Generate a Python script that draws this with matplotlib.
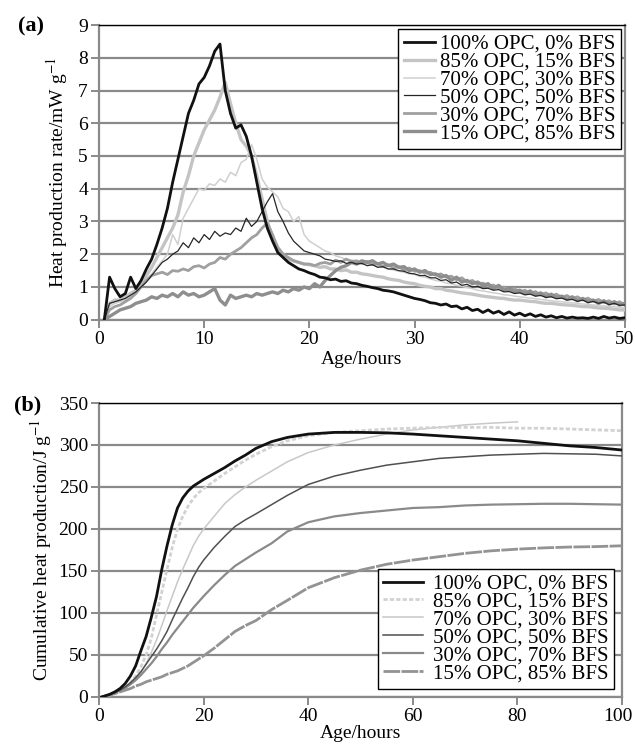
import numpy as np
import matplotlib
matplotlib.use("Agg")
from matplotlib import pyplot as plt
from matplotlib import transforms

plt.rcParams['font.family'] = ['Liberation Serif', 'DejaVu Serif']
plt.rcParams['mathtext.fontset'] = 'stix'

labels = ['100% OPC, 0% BFS', '85% OPC, 15% BFS', '70% OPC, 30% BFS',
          '50% OPC, 50% BFS', '30% OPC, 70% BFS', '15% OPC, 85% BFS']

# (a) heat production rate, mW/g, sampled every 0.5 h from 0.5 to 50 h
hours_a = np.arange(0.5, 50.01, 0.5)

rate_100 = [0.0, 1.3, 0.95, 0.7, 0.8, 1.3, 0.95, 1.2, 1.55, 1.85,
            2.3, 2.8, 3.4, 4.2, 4.9, 5.6, 6.3, 6.7, 7.2, 7.4,
            7.75, 8.2, 8.42, 7.0, 6.3, 5.85, 5.95, 5.6, 5.0, 4.2,
            3.4, 2.8, 2.4, 2.05, 1.9, 1.75, 1.65, 1.55, 1.5, 1.43,
            1.38, 1.3, 1.28, 1.22, 1.24, 1.17, 1.19, 1.12, 1.1, 1.05,
            1.02, 0.98, 0.95, 0.9, 0.88, 0.85, 0.8, 0.75, 0.7, 0.65,
            0.62, 0.58, 0.52, 0.5, 0.45, 0.48, 0.4, 0.42, 0.33, 0.38,
            0.28, 0.32, 0.22, 0.3, 0.2, 0.26, 0.16, 0.24, 0.14, 0.2,
            0.12, 0.18, 0.1, 0.15, 0.08, 0.12, 0.06, 0.1, 0.05, 0.08,
            0.05, 0.06, 0.04, 0.08, 0.04, 0.1, 0.05, 0.08, 0.04, 0.06]
rate_85 = [0.0, 0.5, 0.6, 0.6, 0.7, 0.8, 0.9, 1.1, 1.35, 1.6,
           1.9, 2.2, 2.5, 2.8, 3.2, 3.9, 4.4, 5.0, 5.4, 5.8,
           6.1, 6.4, 6.8, 7.25, 6.6, 6.0, 5.5, 5.3, 5.0, 4.4,
           3.7, 3.0, 2.5, 2.2, 2.0, 1.85, 1.8, 1.75, 1.7, 1.68,
           1.65, 1.6, 1.62, 1.55, 1.55, 1.5, 1.52, 1.45, 1.45, 1.4,
           1.38, 1.35, 1.32, 1.3, 1.25, 1.22, 1.2, 1.15, 1.12, 1.1,
           1.05, 1.02, 1.0, 0.95, 0.95, 0.9, 0.88, 0.85, 0.82, 0.8,
           0.78, 0.75, 0.72, 0.7, 0.68, 0.66, 0.65, 0.62, 0.6, 0.6,
           0.58, 0.56, 0.55, 0.52, 0.5, 0.5, 0.48, 0.46, 0.45, 0.44,
           0.42, 0.4, 0.4, 0.38, 0.36, 0.35, 0.34, 0.32, 0.3, 0.3]
rate_70 = [0.0, 0.4, 0.5, 0.55, 0.6, 0.7, 0.85, 1.0, 1.2, 1.4,
           1.6, 1.8, 2.0, 2.6, 2.3, 3.1, 3.4, 3.7, 4.0, 3.95,
           4.15, 4.1, 4.3, 4.2, 4.5, 4.4, 4.8, 4.9, 5.35, 4.9,
           4.3, 4.05, 3.9, 3.75, 3.4, 3.3, 3.0, 3.15, 2.6, 2.4,
           2.3, 2.2, 2.1, 2.05, 1.95, 1.9, 1.85, 1.82, 1.78, 1.75,
           1.7, 1.68, 1.62, 1.6, 1.55, 1.52, 1.48, 1.45, 1.4, 1.38,
           1.32, 1.3, 1.25, 1.2, 1.18, 1.12, 1.1, 1.05, 1.02, 0.98,
           0.95, 0.9, 0.88, 0.85, 0.82, 0.8, 0.76, 0.75, 0.72, 0.7,
           0.68, 0.66, 0.64, 0.62, 0.6, 0.58, 0.56, 0.55, 0.53, 0.52,
           0.5, 0.48, 0.47, 0.45, 0.44, 0.42, 0.41, 0.4, 0.38, 0.37]
rate_50 = [0.0, 0.5, 0.55, 0.6, 0.65, 0.75, 0.85, 1.0, 1.15, 1.35,
           1.55, 1.75, 1.85, 2.0, 2.1, 2.35, 2.2, 2.5, 2.35, 2.6,
           2.45, 2.7, 2.55, 2.65, 2.6, 2.8, 2.7, 3.1, 2.85, 3.0,
           3.3, 3.6, 3.85, 3.3, 3.0, 2.65, 2.4, 2.25, 2.1, 2.05,
           2.0, 1.95, 1.85, 1.82, 1.78, 1.8, 1.72, 1.75, 1.7, 1.72,
           1.65, 1.68, 1.6, 1.62, 1.55, 1.55, 1.5, 1.48, 1.42, 1.4,
           1.35, 1.35, 1.28, 1.28, 1.2, 1.22, 1.12, 1.15, 1.05, 1.08,
           1.0, 1.02, 0.95, 0.96, 0.9, 0.92, 0.85, 0.86, 0.8, 0.82,
           0.76, 0.78, 0.72, 0.74, 0.68, 0.7, 0.64, 0.66, 0.6, 0.62,
           0.56, 0.6, 0.52, 0.56, 0.5, 0.54, 0.46, 0.5, 0.44, 0.45]
rate_30 = [0.0, 0.3, 0.4, 0.45, 0.55, 0.65, 0.8, 1.0, 1.2, 1.35,
           1.4, 1.45, 1.38, 1.5, 1.48, 1.55, 1.5, 1.62, 1.65, 1.58,
           1.7, 1.75, 1.9, 1.85, 2.0, 2.1, 2.2, 2.35, 2.5, 2.6,
           2.8, 2.95, 2.6, 2.2, 2.0, 1.9, 1.8, 1.75, 1.7, 1.7,
           1.65, 1.72, 1.75, 1.7, 1.82, 1.75, 1.85, 1.78, 1.8, 1.72,
           1.78, 1.68, 1.72, 1.62, 1.68, 1.58, 1.62, 1.52, 1.58, 1.48,
           1.5, 1.42, 1.45, 1.36, 1.4, 1.3, 1.33, 1.22, 1.28, 1.15,
           1.2, 1.08, 1.12, 1.02, 1.06, 0.96, 1.0, 0.9, 0.95, 0.85,
           0.9, 0.8, 0.86, 0.76, 0.82, 0.72, 0.78, 0.68, 0.74, 0.64,
           0.7, 0.6, 0.66, 0.56, 0.62, 0.52, 0.58, 0.48, 0.55, 0.45]
rate_15 = [0.0, 0.1, 0.2, 0.3, 0.35, 0.4, 0.5, 0.55, 0.6, 0.7,
           0.65, 0.75, 0.7, 0.8, 0.7, 0.85, 0.75, 0.8, 0.7, 0.75,
           0.85, 0.95, 0.6, 0.45, 0.75, 0.65, 0.7, 0.75, 0.7, 0.8,
           0.75, 0.8, 0.85, 0.8, 0.9, 0.85, 0.95, 0.9, 1.0, 0.95,
           1.1, 1.0, 1.2, 1.35, 1.5, 1.6, 1.65, 1.75, 1.7, 1.8,
           1.75, 1.8, 1.7, 1.75, 1.65, 1.7, 1.6, 1.62, 1.5, 1.55,
           1.45, 1.5, 1.38, 1.4, 1.3, 1.35, 1.2, 1.3, 1.15, 1.2,
           1.1, 1.15, 1.05, 1.1, 0.95, 1.05, 0.9, 0.95, 0.85, 0.9,
           0.8, 0.88, 0.75, 0.82, 0.7, 0.78, 0.68, 0.72, 0.62, 0.7,
           0.58, 0.65, 0.55, 0.6, 0.5, 0.58, 0.48, 0.55, 0.45, 0.5]

# (b) cumulative heat, J/g
hours_b = [0.5, 2, 3, 4, 5, 6, 7, 8, 9, 10, 11, 12, 13, 14, 15, 16, 17, 18, 19, 20,
           22, 24, 26, 28, 30, 33, 36, 40, 45, 50, 55, 60, 65, 70, 75, 80, 85, 90, 95, 100]
cum_100 = [0, 3, 6, 10, 16, 25, 37, 55, 72, 95, 120, 152, 180, 205, 225, 237, 245, 251, 255, 259,
           266, 273, 281, 288, 296, 304, 309, 313, 315, 315, 314.5, 313, 311, 309, 307, 305, 302, 299, 297, 294]
cum_85 = [0, 2, 4, 7, 11, 17, 25, 36, 50, 70, 98, 125, 152, 178, 200, 215, 227, 236, 243, 248,
          257, 266, 274, 282, 289, 298, 305, 311, 315, 317, 319, 320, 321, 321, 321, 320, 320, 319, 318, 317]
cum_70 = [0, 2, 4, 7, 10, 15, 21, 29, 40, 53, 68, 85, 103, 120, 137, 152, 166, 180, 191, 200,
          215, 230, 241, 250, 258, 269, 280, 291, 300, 307, 313, 318, 321, 324, 326, 327.5,
          np.nan, np.nan, np.nan, np.nan]
cum_50 = [0, 3, 5, 8, 12, 17, 23, 30, 39, 48, 57, 67, 78, 92, 105, 118, 130, 143, 154, 163,
          178, 191, 203, 211, 218, 229, 240, 253, 263, 270, 276, 280, 284, 286, 288, 289, 290, 289.5, 289, 287]
cum_30 = [0, 3, 5, 8, 11, 15, 20, 26, 33, 40, 48, 57, 65, 74, 82, 90, 98, 106, 113, 120,
          133, 145, 156, 164, 172, 183, 197, 208, 215, 219, 222, 225, 226, 228, 229, 229.5, 230, 230, 229.5, 229]
cum_15 = [0, 2, 4, 6, 8, 10, 13, 15, 18, 20, 22, 24, 27, 29, 31, 34, 37, 41, 45, 49,
          58, 68, 78, 85, 91, 104, 115, 130, 142, 151, 158, 163, 167, 171, 174, 176, 177.5, 178.5, 179, 180]

grid_col = '#8a8a8a'
fs = 14
fs_leg = 15

fig = plt.figure(figsize=(6.35, 7.47), dpi=100)
ax_a = fig.add_axes([0.156, 0.572, 0.828, 0.3945])
ax_b = fig.add_axes([0.156, 0.067, 0.8235, 0.3935])


def style_axes(ax):
    ax.grid(axis='y', color=grid_col, lw=1.6)
    ax.set_axisbelow(True)
    for side in ['left', 'bottom', 'right']:
        ax.spines[side].set_color(grid_col)
        ax.spines[side].set_linewidth(1.6)
    ax.spines['top'].set_color('black')
    ax.spines['top'].set_linewidth(1.0)
    ax.tick_params(axis='both', colors=grid_col, labelcolor='black',
                   labelsize=fs, length=6, width=1.4, direction='out')
    ax.tick_params(axis='y', pad=2)
    ax.tick_params(axis='x', pad=2)


# panel (a)
ax_a.plot(hours_a, rate_100, color='#111111', lw=2.0, label=labels[0], zorder=8)
ax_a.plot(hours_a, rate_85, color='#c4c4c4', lw=2.4, label=labels[1], zorder=5)
ax_a.plot(hours_a, rate_70, color='#cfcfcf', lw=1.1, label=labels[2], zorder=4)
ax_a.plot(hours_a, rate_50, color='#262626', lw=0.9, label=labels[3], zorder=7)
ax_a.plot(hours_a, rate_30, color='#a0a0a0', lw=2.0, label=labels[4], zorder=6)
ax_a.plot(hours_a, rate_15, color='#8e8e8e', lw=2.4, label=labels[5], zorder=6)
ax_a.set_xlim(0, 50)
ax_a.set_ylim(0, 9)
ax_a.set_xticks([0, 10, 20, 30, 40, 50])
ax_a.set_yticks(range(10))
style_axes(ax_a)
ax_a.set_xlabel('Age/hours', fontsize=fs, labelpad=2)
ax_a.set_ylabel('Heat production rate/mW g$^{-1}$', fontsize=fs, labelpad=6)
leg = ax_a.legend(loc='upper right', fontsize=fs_leg, frameon=True, fancybox=False,
                  edgecolor='black', framealpha=1, handlelength=1.5,
                  handletextpad=0.25, labelspacing=-0.08, borderpad=0.25,
                  borderaxespad=0.2)
leg.get_frame().set_linewidth(1.0)
fig.text(0.028, 0.964, '(a)', fontsize=16, fontweight='bold', va='center')

# panel (b)
ax_b.plot(hours_b, cum_100, color='#111111', lw=2.0, label=labels[0], zorder=8)
ax_b.plot(hours_b, cum_85, color='#d2d2d2', lw=2.0, ls=(0, (1.5, 0.8)), label=labels[1], zorder=5)
ax_b.plot(hours_b, cum_70, color='#c8c8c8', lw=1.1, label=labels[2], zorder=4)
ax_b.plot(hours_b, cum_50, color='#505050', lw=1.1, label=labels[3], zorder=7)
ax_b.plot(hours_b, cum_30, color='#8a8a8a', lw=1.6, label=labels[4], zorder=6)
ax_b.plot(hours_b, cum_15, color='#939393', lw=2.0, ls=(0, (6, 0.5)), label=labels[5], zorder=6)
ax_b.set_xlim(0, 100)
ax_b.set_ylim(0, 350)
ax_b.set_xticks([0, 20, 40, 60, 80, 100])
ax_b.set_yticks(range(0, 351, 50))
style_axes(ax_b)
ax_b.set_xlabel('Age/hours', fontsize=fs, labelpad=0)
ax_b.set_ylabel('Cumulative heat production/J g$^{-1}$', fontsize=fs, labelpad=3)
leg = ax_b.legend(loc='lower right', fontsize=fs_leg, frameon=True, fancybox=False,
                  edgecolor='black', framealpha=1, handlelength=1.9,
                  handletextpad=0.5, labelspacing=-0.08, borderpad=0.25,
                  borderaxespad=0.4)
leg.get_frame().set_linewidth(1.0)
fig.text(0.022, 0.457, '(b)', fontsize=16, fontweight='bold', va='center')

# keep the last x tick label inside the figure
last = ax_b.get_xticklabels()[-1]
last.set_transform(last.get_transform() +
                   transforms.ScaledTranslation(-4 / 100, 0, fig.dpi_scale_trans))

fig.savefig('out.png', dpi=100)
